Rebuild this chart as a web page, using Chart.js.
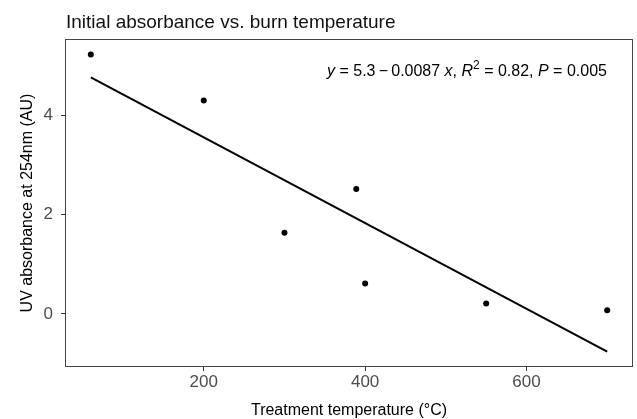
<!DOCTYPE html>
<html><head><meta charset="utf-8">
<script src="https://cdn.jsdelivr.net/npm/chart.js@4"></script>
<style>html,body{margin:0;padding:0;background:#fff}#wrap{width:637px;height:419px}</style>
</head><body><div id="wrap"><canvas id="c" width="637" height="419"></canvas></div>
<script>
const temperatures = [60, 200, 300, 389, 400, 550, 700];
const absorbance = [5.22, 4.29, 1.63, 2.51, 0.61, 0.21, 0.07];
const fitTemps = [60, 700];
const fitAbsorbance = [4.76, -0.76];
const xTicks = [200, 400, 600];
const yTicks = [0, 2, 4];
const xRange = [28, 732];
const yRange = [-1.07, 5.53];
const titleText = 'Initial absorbance vs. burn temperature';
const xTitle = 'Treatment temperature (°C)';
const yTitle = 'UV absorbance at 254nm (AU)';
const annotationParts = [
  {t: 'y', i: true}, {t: ' = 5.3\u2009\u2212\u20090.0087 '}, {t: 'x', i: true}, {t: ', '},
  {t: 'R', i: true}, {t: '2', sup: true}, {t: ' = 0.82, '}, {t: 'P', i: true}, {t: ' = 0.005'}
];

const FONT = '"Liberation Sans", Arial, sans-serif';

const textPlugin = {
  id: 'texts',
  afterDraw(chart) {
    const ctx = chart.ctx, ca = chart.chartArea;
    ctx.save();
    // panel border
    ctx.strokeStyle = '#444';
    ctx.lineWidth = 1;
    ctx.strokeRect(ca.left + 0.5, ca.top + 0.5, ca.right - ca.left - 1, ca.bottom - ca.top - 1);
    // title
    ctx.fillStyle = '#111';
    ctx.font = '19px ' + FONT;
    ctx.textAlign = 'left';
    ctx.textBaseline = 'alphabetic';
    ctx.fillText(titleText, 66, 28);
    // x title
    ctx.fillStyle = '#000';
    ctx.font = '16px ' + FONT;
    ctx.textAlign = 'center';
    ctx.fillText(xTitle, (ca.left + ca.right) / 2, 415);
    // y title
    ctx.save();
    ctx.translate(31.5, (ca.top + ca.bottom) / 2);
    ctx.rotate(-Math.PI / 2);
    ctx.fillText(yTitle, 0, 0);
    ctx.restore();
    // annotation
    ctx.textAlign = 'left';
    let x = 327;
    const base = 76;
    for (const p of annotationParts) {
      if (p.sup) {
        ctx.font = '12px ' + FONT;
        ctx.fillText(p.t, x, base - 7);
      } else {
        ctx.font = (p.i ? 'italic ' : '') + '16px ' + FONT;
        ctx.fillText(p.t, x, base);
      }
      x += ctx.measureText(p.t).width;
    }
    ctx.restore();
  }
};

new Chart(document.getElementById('c'), {
  type: 'scatter',
  data: {
    datasets: [
      {
        type: 'line',
        data: fitTemps.map((v, k) => ({x: v, y: fitAbsorbance[k]})),
        borderColor: '#000', borderWidth: 2, pointRadius: 0, fill: false, tension: 0
      },
      {
        data: temperatures.map((v, k) => ({x: v, y: absorbance[k]})),
        backgroundColor: '#000', borderColor: '#000', pointRadius: 3, borderWidth: 0
      }
    ]
  },
  options: {
    responsive: false,
    animation: false,
    devicePixelRatio: 1,
    layout: {padding: {left: 0, right: 3, top: 39, bottom: 0}},
    plugins: {legend: {display: false}, tooltip: {enabled: false}, title: {display: false}},
    scales: {
      x: {
        type: 'linear', min: xRange[0], max: xRange[1],
        afterBuildTicks: s => { s.ticks = xTicks.map(v => ({value: v})); },
        afterFit: s => { s.height = 52; },
        grid: {drawOnChartArea: false, color: '#333', tickLength: 4},
        border: {display: false},
        ticks: {padding: 1, color: '#4d4d4d', font: {family: FONT, size: 17}}
      },
      y: {
        type: 'linear', min: yRange[0], max: yRange[1],
        afterBuildTicks: s => { s.ticks = yTicks.map(v => ({value: v})); },
        afterFit: s => { s.width = 65; },
        grid: {drawOnChartArea: false, color: '#333', tickLength: 4},
        border: {display: false},
        ticks: {padding: 8, color: '#4d4d4d', font: {family: FONT, size: 17}}
      }
    }
  },
  plugins: [textPlugin]
});
</script>
</body></html>
